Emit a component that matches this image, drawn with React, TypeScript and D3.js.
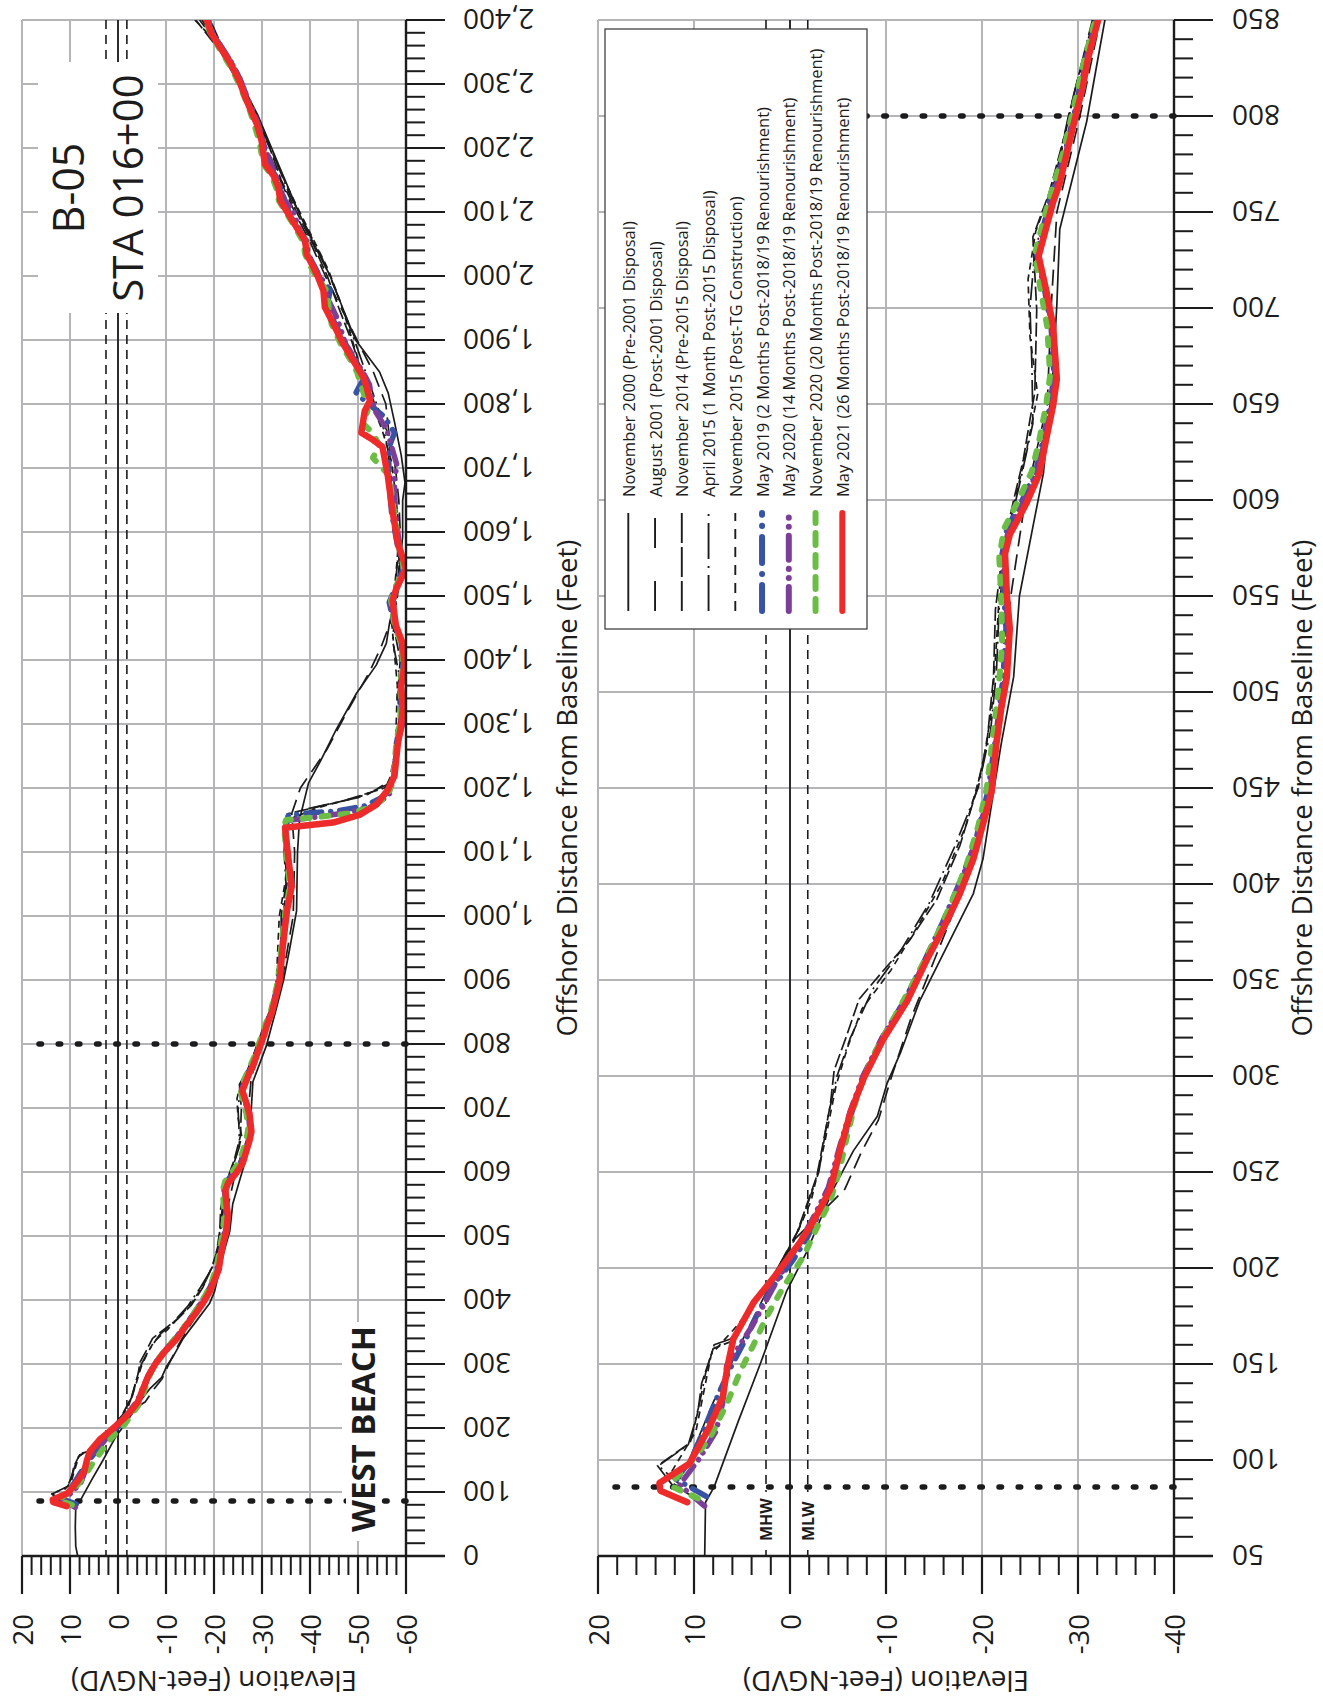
import React from 'react';
import * as d3 from 'd3';

type Pt = [number, number]; // [offshore distance (ft), elevation (ft NGVD)]

// ---- survey profiles ----
const nov2000: Pt[] = [
  [0, 8.4], [15, 8.8], [45, 8.9], [78, 8.8], [86, 7.9], [120, 5.4], [150, 3.1], [188, 0.35],
  [208, -1.7], [241, -4.5], [261, -6.6], [279, -9.1], [296, -10.1], [312, -11.5], [339, -13.5],
  [367, -16.3], [395, -19.1], [413, -20.1], [448, -21.2], [473, -22.0], [508, -23.3], [550, -23.9],
  [586, -25.3], [614, -26.4], [667, -27.4], [702, -27.8], [741, -28.1], [769, -29.5], [797, -30.9],
  [825, -31.9], [850, -32.8], [900, -34.5], [950, -35.8], [1008, -37.2], [1100, -37.4], [1150, -37.8],
  [1208, -39.7], [1241, -42.1], [1292, -45.5], [1348, -49.7], [1392, -53.8], [1426, -55.9],
  [1459, -56.6], [1498, -57.9], [1537, -58.6], [1593, -59.3], [1649, -59.3], [1677, -59.8],
  [1720, -59.0], [1772, -57.6], [1817, -56.3], [1850, -54.5], [1900, -49.5], [1950, -46.8],
  [2000, -44.2], [2050, -40.8], [2100, -37.6], [2150, -34.8], [2200, -32.0], [2250, -29.2],
  [2300, -25.8], [2350, -21.8], [2400, -17.5],
];

const aug2001: Pt[] = [
  [90, 11.5], [100, 10.5], [130, 8.0], [160, 5.2], [190, 2.2], [215, -0.5], [241, -5.7], [261, -7.5],
  [277, -9.2], [300, -10.6], [330, -12.6], [360, -15.0], [400, -18.2], [450, -20.8], [500, -22.2],
  [550, -23.0], [600, -24.5], [650, -26.8], [700, -27.2], [750, -27.8], [800, -30.2], [850, -32.3],
  [900, -34.2], [1000, -36.5], [1100, -36.8], [1160, -36.2], [1200, -38.0], [1260, -43.5],
  [1320, -47.8], [1380, -52.3], [1420, -54.8], [1460, -56.8], [1500, -57.5], [1550, -58.2],
  [1600, -58.8], [1650, -58.5], [1700, -57.8], [1750, -56.5], [1800, -55.8], [1850, -53.2],
  [1900, -49.8], [1950, -46.5], [2000, -43.2], [2050, -40.2], [2100, -36.8], [2150, -33.8],
  [2200, -31.0], [2250, -28.3], [2300, -25.5], [2350, -22.2], [2400, -19.2],
];

const nov2014: Pt[] = [
  [84, 11.8], [97, 13.8], [109, 10.4], [125, 9.6], [140, 9.2], [158, 8.0], [162, 6.0], [175, 4.5],
  [195, 1.8], [218, -0.7], [248, -2.8], [285, -4.2], [303, -4.6], [321, -5.9], [340, -7.2],
  [353, -9.4], [371, -12.5], [392, -15.3], [420, -17.7], [448, -19.4], [473, -20.5], [508, -21.2],
  [543, -21.4], [575, -22.2], [600, -23.3], [621, -24.3], [642, -25.0], [656, -25.5], [699, -25.7],
  [737, -25.3], [760, -27.0], [790, -28.6], [820, -30.0], [850, -31.6], [900, -33.2], [950, -33.8],
  [1000, -34.4], [1050, -35.2], [1100, -34.8], [1140, -34.6], [1160, -35.5], [1180, -47.0],
  [1200, -55.5], [1215, -57.2], [1250, -58.0], [1300, -58.6], [1350, -58.3], [1400, -58.8],
  [1450, -57.5], [1500, -58.0], [1550, -58.6], [1600, -58.2], [1650, -57.0], [1700, -56.8],
  [1750, -56.5], [1800, -53.5], [1850, -50.8], [1900, -48.6], [1950, -46.0], [2000, -43.6],
  [2050, -40.6], [2100, -37.2], [2150, -34.0], [2200, -31.6], [2250, -28.6], [2300, -25.2],
  [2350, -21.4], [2400, -16.2],
];

const apr2015: Pt[] = [
  [86, 11.2], [97, 13.7], [108, 10.6], [118, 10.0], [130, 9.4], [145, 8.8], [160, 7.9], [163, 6.2],
  [178, 4.0], [198, 1.5], [220, -0.9], [250, -3.0], [280, -4.0], [300, -4.9], [320, -6.3],
  [345, -8.6], [365, -11.5], [390, -14.5], [420, -17.2], [450, -19.6], [480, -20.9], [510, -21.5],
  [545, -21.8], [580, -22.6], [610, -24.0], [640, -25.3], [670, -25.2], [700, -25.0], [730, -25.5],
  [760, -27.3], [800, -29.0], [850, -31.5], [900, -33.5], [950, -34.0], [1000, -34.0], [1050, -35.0],
  [1100, -34.6], [1140, -34.9], [1165, -38.0], [1185, -50.0], [1205, -56.0], [1230, -57.5],
  [1280, -58.2], [1330, -58.8], [1380, -58.5], [1430, -57.2], [1480, -57.8], [1530, -58.8],
  [1580, -58.4], [1630, -57.5], [1680, -56.9], [1730, -56.2], [1780, -54.8], [1830, -52.5],
  [1880, -50.2], [1930, -47.8], [1980, -45.2], [2030, -42.4], [2080, -39.0], [2130, -35.6],
  [2180, -32.9], [2230, -30.0], [2280, -26.8], [2330, -23.4], [2380, -19.0], [2400, -17.0],
];

const nov2015: Pt[] = [
  [82, 10.5], [90, 12.8], [100, 11.6], [115, 9.8], [135, 9.0], [155, 8.2], [170, 5.5], [190, 2.5],
  [212, -0.2], [235, -2.2], [265, -3.6], [295, -4.8], [315, -6.0], [335, -7.5], [355, -10.5],
  [378, -13.3], [400, -15.8], [430, -18.3], [460, -20.0], [490, -21.0], [525, -21.5], [560, -21.9],
  [595, -23.2], [625, -24.6], [655, -25.8], [685, -25.0], [715, -24.8], [740, -25.6], [770, -27.8],
  [810, -29.5], [850, -31.8], [900, -33.0], [1000, -33.6], [1060, -35.0], [1100, -34.9],
  [1150, -35.2], [1170, -42.0], [1190, -52.0], [1210, -56.5], [1260, -57.8], [1310, -58.0],
  [1360, -58.2], [1410, -57.6], [1460, -57.0], [1510, -57.6], [1560, -58.2], [1610, -58.5],
  [1660, -57.8], [1710, -57.0], [1760, -55.0], [1810, -52.3], [1860, -50.4], [1910, -48.4],
  [1960, -46.3], [2010, -43.8], [2060, -40.5], [2110, -37.2], [2160, -34.0], [2210, -31.2],
  [2260, -28.4], [2310, -25.0], [2360, -21.2], [2400, -16.0],
];

const may2019: Pt[] = [
  [81, 8.7], [90, 11.9], [100, 10.3], [118, 8.8], [135, 7.4], [150, 6.0], [164, 4.5], [175, 3.5],
  [188, 2.1], [204, -0.3], [215, -1.7], [230, -3.2], [245, -4.4], [262, -5.3], [282, -6.5],
  [300, -7.7], [320, -9.6], [340, -12.0], [360, -14.0], [380, -15.9], [400, -17.6], [420, -19.2],
  [448, -20.6], [475, -21.4], [508, -22.2], [533, -22.5], [550, -22.3], [572, -22.1], [585, -22.6],
  [600, -24.2], [615, -25.6], [632, -26.4], [650, -27.1], [665, -27.5], [690, -27.2], [710, -26.5],
  [728, -25.7], [755, -27.0], [780, -28.6], [801, -29.6], [830, -30.8], [850, -31.9], [900, -33.5],
  [950, -34.1], [1008, -35.0], [1046, -36.0], [1090, -35.4], [1140, -34.9], [1158, -35.5],
  [1161, -40.0], [1164, -45.5], [1172, -51.4], [1186, -55.2], [1205, -57.0], [1220, -57.5],
  [1270, -58.0], [1300, -58.8], [1330, -59.0], [1360, -58.8], [1395, -59.5], [1430, -59.0],
  [1455, -57.6], [1490, -56.5], [1510, -57.6], [1545, -59.6], [1580, -58.2], [1630, -57.0],
  [1690, -56.3], [1733, -56.5], [1755, -57.6], [1780, -55.5], [1805, -51.4], [1818, -49.6],
  [1828, -50.3], [1842, -51.4], [1868, -49.3], [1894, -47.5], [1925, -45.2], [1955, -43.6],
  [1977, -44.2], [2000, -42.0], [2034, -39.6], [2055, -39.3], [2076, -37.2], [2102, -35.5],
  [2139, -33.8], [2157, -32.8], [2175, -31.0], [2212, -30.2], [2250, -28.2], [2274, -27.0],
  [2308, -25.4], [2334, -23.6], [2357, -21.6], [2378, -19.8], [2400, -18.8],
];

const may2020: Pt[] = [
  [76, 8.9], [87, 11.5], [101, 9.4], [115, 7.7], [130, 7.0], [149, 6.6], [171, 3.8], [193, 1.4],
  [210, -0.6], [225, -2.3], [242, -4.0], [262, -5.1], [282, -6.3], [300, -7.6], [320, -9.6],
  [340, -12.1], [360, -14.1], [380, -16.0], [400, -17.7], [420, -19.2], [448, -20.8], [475, -21.5],
  [508, -22.4], [533, -22.7], [552, -22.4], [572, -22.2], [585, -22.8], [600, -24.4], [615, -25.8],
  [632, -26.5], [650, -27.2], [665, -27.6], [690, -27.3], [710, -26.6], [728, -25.8], [755, -27.2],
  [780, -28.7], [801, -29.7], [830, -30.9], [850, -32.0], [900, -33.6], [950, -34.2], [1008, -35.1],
  [1046, -36.1], [1090, -35.4], [1140, -34.9], [1150, -36.0], [1155, -42.0], [1162, -48.0],
  [1172, -53.5], [1190, -56.5], [1220, -57.6], [1270, -58.2], [1300, -59.3], [1330, -59.4],
  [1360, -59.0], [1392, -59.6], [1426, -59.0], [1454, -57.8], [1493, -57.0], [1510, -57.8],
  [1543, -59.8], [1580, -58.6], [1632, -57.8], [1690, -57.5], [1700, -58.3], [1733, -57.0],
  [1760, -56.0], [1790, -53.5], [1810, -52.8], [1830, -52.4], [1850, -51.0], [1870, -49.4],
  [1894, -47.4], [1935, -45.6], [1960, -44.0], [1998, -42.0], [2034, -39.6], [2060, -38.6],
  [2076, -37.6], [2102, -36.5], [2120, -34.5], [2139, -33.8], [2165, -32.4], [2200, -30.6],
  [2238, -29.2], [2274, -27.2], [2308, -25.4], [2334, -23.6], [2357, -21.6], [2378, -19.8],
  [2400, -18.8],
];

const nov2020: Pt[] = [
  [80, 9.6], [86, 12.2], [88, 12.4], [96, 10.8], [111, 8.4], [129, 6.6], [146, 5.2], [160, 3.8],
  [175, 2.4], [190, 0.7], [206, -1.4], [221, -2.8], [235, -4.2], [252, -5.2], [270, -6.0],
  [290, -7.0], [310, -8.6], [330, -10.8], [350, -13.0], [370, -15.0], [390, -16.8], [410, -18.4],
  [430, -19.6], [450, -20.5], [475, -21.1], [500, -21.7], [525, -22.1], [550, -22.0], [570, -21.8],
  [585, -22.3], [600, -23.8], [615, -25.2], [632, -26.0], [650, -26.7], [665, -27.1], [690, -26.8],
  [710, -26.1], [728, -25.5], [755, -26.9], [780, -28.4], [801, -29.4], [830, -30.7], [850, -31.8],
  [900, -33.4], [950, -34.0], [1008, -34.9], [1046, -35.8], [1090, -35.2], [1140, -34.6],
  [1150, -35.0], [1155, -42.0], [1160, -48.0], [1170, -53.0], [1190, -56.4], [1220, -57.4],
  [1270, -58.0], [1300, -58.6], [1330, -59.1], [1360, -58.7], [1392, -59.4], [1426, -59.0],
  [1454, -57.6], [1493, -56.9], [1510, -57.6], [1543, -59.6], [1580, -58.4], [1632, -57.5],
  [1688, -56.5], [1716, -53.1], [1735, -54.5], [1755, -53.0], [1770, -51.0], [1790, -52.0],
  [1810, -51.5], [1830, -50.6], [1850, -49.8], [1868, -48.5], [1894, -46.4], [1925, -44.5],
  [1951, -43.9], [1977, -43.5], [1998, -41.4], [2014, -40.2], [2034, -39.0], [2055, -38.5],
  [2076, -36.9], [2102, -34.8], [2118, -33.5], [2139, -32.9], [2157, -32.0], [2175, -30.3],
  [2212, -29.4], [2258, -27.5], [2290, -25.8], [2320, -24.0], [2350, -21.6], [2378, -19.3],
  [2400, -18.3],
];

const may2021: Pt[] = [
  [78, 10.7], [84, 13.5], [88, 13.6], [98, 10.5], [117, 8.4], [133, 7.0], [149, 6.5], [163, 5.9],
  [182, 3.8], [195, 1.7], [213, -1.0], [224, -2.4], [241, -4.2], [261, -5.2], [281, -6.3],
  [299, -7.7], [319, -9.7], [339, -12.2], [360, -14.2], [378, -16.1], [395, -17.7], [413, -19.1],
  [431, -20.1], [448, -21.0], [473, -21.5], [491, -22.0], [508, -22.6], [533, -22.9], [550, -22.6],
  [572, -22.4], [582, -22.9], [598, -24.6], [614, -26.0], [632, -26.7], [649, -27.4], [663, -27.8],
  [691, -27.4], [709, -26.7], [727, -25.9], [755, -27.4], [765, -28.1], [780, -28.8], [801, -29.8],
  [815, -30.5], [829, -31.0], [850, -32.1], [900, -33.7], [950, -34.3], [1008, -35.2], [1046, -36.2],
  [1090, -35.5], [1138, -34.8], [1146, -44.8], [1158, -50.3], [1174, -53.8], [1197, -56.2],
  [1219, -57.6], [1269, -58.3], [1297, -59.0], [1325, -59.3], [1359, -59.0], [1392, -59.7],
  [1426, -59.3], [1454, -57.9], [1493, -57.2], [1510, -57.9], [1543, -60.0], [1560, -59.3],
  [1582, -58.3], [1632, -57.2], [1688, -56.2], [1733, -55.1], [1744, -53.1], [1755, -50.7],
  [1789, -51.4], [1805, -52.5], [1826, -51.8], [1842, -51.1], [1868, -49.0], [1894, -46.9],
  [1925, -44.9], [1951, -43.1], [1977, -42.8], [1998, -41.7], [2014, -40.7], [2034, -39.3],
  [2055, -39.0], [2076, -37.2], [2102, -35.1], [2118, -33.8], [2139, -33.4], [2157, -32.4],
  [2175, -30.6], [2212, -29.9], [2238, -28.9], [2274, -26.8], [2308, -25.1], [2334, -23.3],
  [2357, -21.3], [2378, -19.5], [2400, -18.5],
];

const surveys = [nov2000, aug2001, nov2014, apr2015, nov2015, may2019, may2020, nov2020, may2021];
const surveyNames = [
  'November 2000 (Pre-2001 Disposal)',
  'August 2001 (Post-2001 Disposal)',
  'November 2014 (Pre-2015 Disposal)',
  'April 2015 (1 Month Post-2015 Disposal)',
  'November 2015 (Post-TG Construction)',
  'May 2019 (2 Months Post-2018/19 Renourishment)',
  'May 2020 (14 Months Post-2018/19 Renourishment)',
  'November 2020 (20 Months Post-2018/19 Renourishment)',
  'May 2021 (26 Months Post-2018/19 Renourishment)',
];

// tidal datums and marker stations
const MHW = 2.5;
const NGVD0 = 0;
const MLW = -1.85;
const markerDistances = [86, 800];

// ---- styles ----
const INK = '#1c1c1c';
const GRID = '#b5b5b9';
const FONT = "'Open Sans', 'Noto Sans', 'DejaVu Sans', sans-serif";

const lineStyles = [
  { stroke: INK, width: 1.7, dash: '', legendDash: '', cap: 'butt' },
  { stroke: INK, width: 1.7, dash: '16 8', legendDash: '30 33', cap: 'butt' },
  { stroke: INK, width: 1.7, dash: '14 4', legendDash: '30 4', cap: 'butt' },
  { stroke: INK, width: 1.7, dash: '22 5 2 5', legendDash: '36 7 2 7', cap: 'butt' },
  { stroke: INK, width: 1.7, dash: '7 5', legendDash: '10 8', cap: 'butt' },
  { stroke: '#3853a4', width: 5.5, dash: '16 9 0.1 9', legendDash: '26 11 0.1 11', cap: 'round' },
  { stroke: '#7c3f98', width: 5.5, dash: '16 8 0.1 8 0.1 8', legendDash: '24 9 0.1 9 0.1 9', cap: 'round' },
  { stroke: '#6bbd45', width: 6, dash: '7 12', legendDash: '12 10', cap: 'round' },
  { stroke: '#ee2b2b', width: 6.5, dash: '', legendDash: '', cap: 'round' },
];

type PanelSpec = {
  id: string; left: number; right: number; top: number; bottom: number;
  elevMin: number; distMin: number; distMax: number; distMajor: number; distMinor: number;
  labelX: number; titleX: number; fmt: (n: number) => string;
};

const panelSpecs: PanelSpec[] = [
  { id: 'a', left: 22, right: 406, top: 20, bottom: 1556, elevMin: -60, distMin: 0, distMax: 2400,
    distMajor: 100, distMinor: 20, labelX: 463, titleX: 566, fmt: d3.format(',') },
  { id: 'b', left: 598, right: 1174, top: 20, bottom: 1556, elevMin: -40, distMin: 50, distMax: 850,
    distMajor: 50, distMinor: 10, labelX: 1232, titleX: 1301, fmt: d3.format('d') },
];

function scalesFor(s: PanelSpec) {
  const x = d3.scaleLinear().domain([20, s.elevMin]).range([s.left, s.right]);
  const y = d3.scaleLinear().domain([s.distMin, s.distMax]).range([s.bottom, s.top]);
  return { x, y };
}

function Panel({ spec, underlay, overlay }: { spec: PanelSpec; underlay?: React.ReactNode; overlay?: React.ReactNode }) {
  const { x, y } = scalesFor(spec);
  const elevMajor = d3.range(20, spec.elevMin - 1, -10);
  const elevMinor = d3.range(20, spec.elevMin - 1, -2);
  const distMajor = d3.range(spec.distMin, spec.distMax + 1, spec.distMajor);
  const distMinor = d3.range(spec.distMin, spec.distMax + 1, spec.distMinor);
  const line = d3.line<Pt>().x((d) => x(d[1])).y((d) => y(d[0]));
  const clipId = `clip-${spec.id}`;

  return (
    <g>
      <defs>
        <clipPath id={clipId}>
          <rect x={spec.left} y={spec.top} width={spec.right - spec.left} height={spec.bottom - spec.top} />
        </clipPath>
      </defs>

      {/* grid */}
      {elevMajor.map((e) => (
        <line key={'gv' + e} x1={x(e)} x2={x(e)} y1={spec.top} y2={spec.bottom} stroke={GRID} strokeWidth={2} />
      ))}
      {distMajor.map((d) => (
        <line key={'gh' + d} x1={spec.left} x2={spec.right} y1={y(d)} y2={y(d)} stroke={GRID} strokeWidth={2} />
      ))}

      {/* tidal datums */}
      {[MHW, MLW].map((e) => (
        <line key={'td' + e} x1={x(e)} x2={x(e)} y1={spec.top} y2={spec.bottom} stroke={INK} strokeWidth={1.6} strokeDasharray="9 6" />
      ))}
      <line x1={x(NGVD0)} x2={x(NGVD0)} y1={spec.top} y2={spec.bottom} stroke={INK} strokeWidth={1.8} />

      {underlay}

      {/* marker stations */}
      {markerDistances.map((d) => (
        <line key={'mk' + d} x1={spec.left + 17} x2={spec.right} y1={y(d)} y2={y(d)} stroke={INK}
          strokeWidth={5.5} strokeDasharray="2.5 16.7" strokeLinecap="round" />
      ))}

      {/* profiles */}
      <g clipPath={`url(#${clipId})`}>
        {surveys.map((s, i) => {
          const st = lineStyles[i];
          return (
            <path key={'s' + i} d={line(s) ?? ''} fill="none" stroke={st.stroke} strokeWidth={st.width}
              strokeDasharray={st.dash || undefined} strokeLinecap={st.cap as any} strokeLinejoin="round" />
          );
        })}
      </g>

      {/* axes */}
      <line x1={spec.left} x2={spec.right + 39} y1={spec.bottom} y2={spec.bottom} stroke={INK} strokeWidth={2.4} />
      <line x1={spec.right} x2={spec.right} y1={spec.top} y2={spec.bottom} stroke={INK} strokeWidth={2.4} />
      {elevMinor.map((e) => (
        <line key={'tm' + e} x1={x(e)} x2={x(e)} y1={spec.bottom} y2={spec.bottom + 19} stroke={INK} strokeWidth={2} />
      ))}
      {elevMajor.map((e) => (
        <line key={'tM' + e} x1={x(e)} x2={x(e)} y1={spec.bottom} y2={spec.bottom + 38} stroke={INK} strokeWidth={2.2} />
      ))}
      {distMinor.map((d) => (
        <line key={'rm' + d} x1={spec.right} x2={spec.right + 19} y1={y(d)} y2={y(d)} stroke={INK} strokeWidth={2} />
      ))}
      {distMajor.map((d) => (
        <line key={'rM' + d} x1={spec.right} x2={spec.right + 39} y1={y(d)} y2={y(d)} stroke={INK} strokeWidth={2.2} />
      ))}

      {/* tick labels */}
      {elevMajor.map((e) => (
        <text key={'le' + e} transform={`translate(${x(e)},${spec.bottom + 58}) rotate(-90)`} textAnchor="end"
          dominantBaseline="central" fontSize={27.5} fill={INK}>{String(e)}</text>
      ))}
      {distMajor.map((d) => (
        <text key={'ld' + d} transform={`translate(${spec.labelX},${y(d)}) rotate(180)`} textAnchor="end"
          dominantBaseline="central" fontSize={28} fill={INK}>{spec.fmt(d)}</text>
      ))}

      {/* axis titles */}
      <text transform={`translate(${(spec.left + spec.right) / 2},${spec.bottom + 126}) rotate(180)`} textAnchor="middle"
        dominantBaseline="central" fontSize={28} fill={INK}>Elevation (Feet-NGVD)</text>
      <text transform={`translate(${spec.titleX},${(spec.top + spec.bottom) / 2}) rotate(-90)`} textAnchor="middle"
        dominantBaseline="central" fontSize={27.7} fill={INK}>Offshore Distance from Baseline (Feet)</text>

      {overlay}
    </g>
  );
}

function rotatedLabel(cx: number, cy: number, text: string, size: number, bold = false, anchor = 'middle') {
  return (
    <text transform={`translate(${cx},${cy}) rotate(-90)`} textAnchor={anchor} dominantBaseline="central"
      fontSize={size} fontWeight={bold ? 700 : 400} fill={INK}>{text}</text>
  );
}

export default function App() {
  const [specA, specB] = panelSpecs;
  const sb = scalesFor(specB);

  const legendX0 = 628.3;
  const legendStep = 26.75;

  const underA = (
    <g>
      <rect x={38} y={62} width={120} height={251} fill="#fff" />
      <rect x={342} y={1322} width={63} height={219} fill="#fff" />
    </g>
  );
  const overA = (
    <g>
      {rotatedLabel(67, 188, 'B-05', 43)}
      {rotatedLabel(126, 188, 'STA 016+00', 42)}
      <rect x={346} y={1326} width={33} height={206} fill="#fff" />
      {rotatedLabel(362, 1429, 'WEST BEACH', 33, true)}
    </g>
  );

  const overB = (
    <g>
      {[MHW, MLW].map((e, i) => (
        <g key={'dl' + i}>
          <rect x={sb.x(e) - 9} y={1492} width={18} height={52} fill="#fff" />
          {rotatedLabel(sb.x(e), 1541, i === 0 ? 'MHW' : 'MLW', 16, true, 'start')}
        </g>
      ))}
      <rect x={605} y={29} width={262} height={600} fill="#fff" stroke="#333" strokeWidth={1.2} />
      {surveyNames.map((name, i) => {
        const st = lineStyles[i];
        const lx = legendX0 + i * legendStep;
        return (
          <g key={'lg' + i}>
            <line x1={lx} x2={lx} y1={611} y2={513} stroke={st.stroke} strokeWidth={i >= 5 ? 6 : 1.9}
              strokeDasharray={st.legendDash || undefined} strokeLinecap={st.cap as any} />
            <text transform={`translate(${lx},497) rotate(-90)`} textAnchor="start" dominantBaseline="central"
              fontSize={16.5} fill={INK}>{name}</text>
          </g>
        );
      })}
    </g>
  );

  return (
    <svg width={1323} height={1701} viewBox="0 0 1323 1701" fontFamily={FONT}
      style={{ position: 'absolute', left: 0, top: 0, background: '#fff' }}>
      <rect width={1323} height={1701} fill="#fff" />
      <Panel spec={specA} underlay={underA} overlay={overA} />
      <Panel spec={specB} overlay={overB} />
    </svg>
  );
}
